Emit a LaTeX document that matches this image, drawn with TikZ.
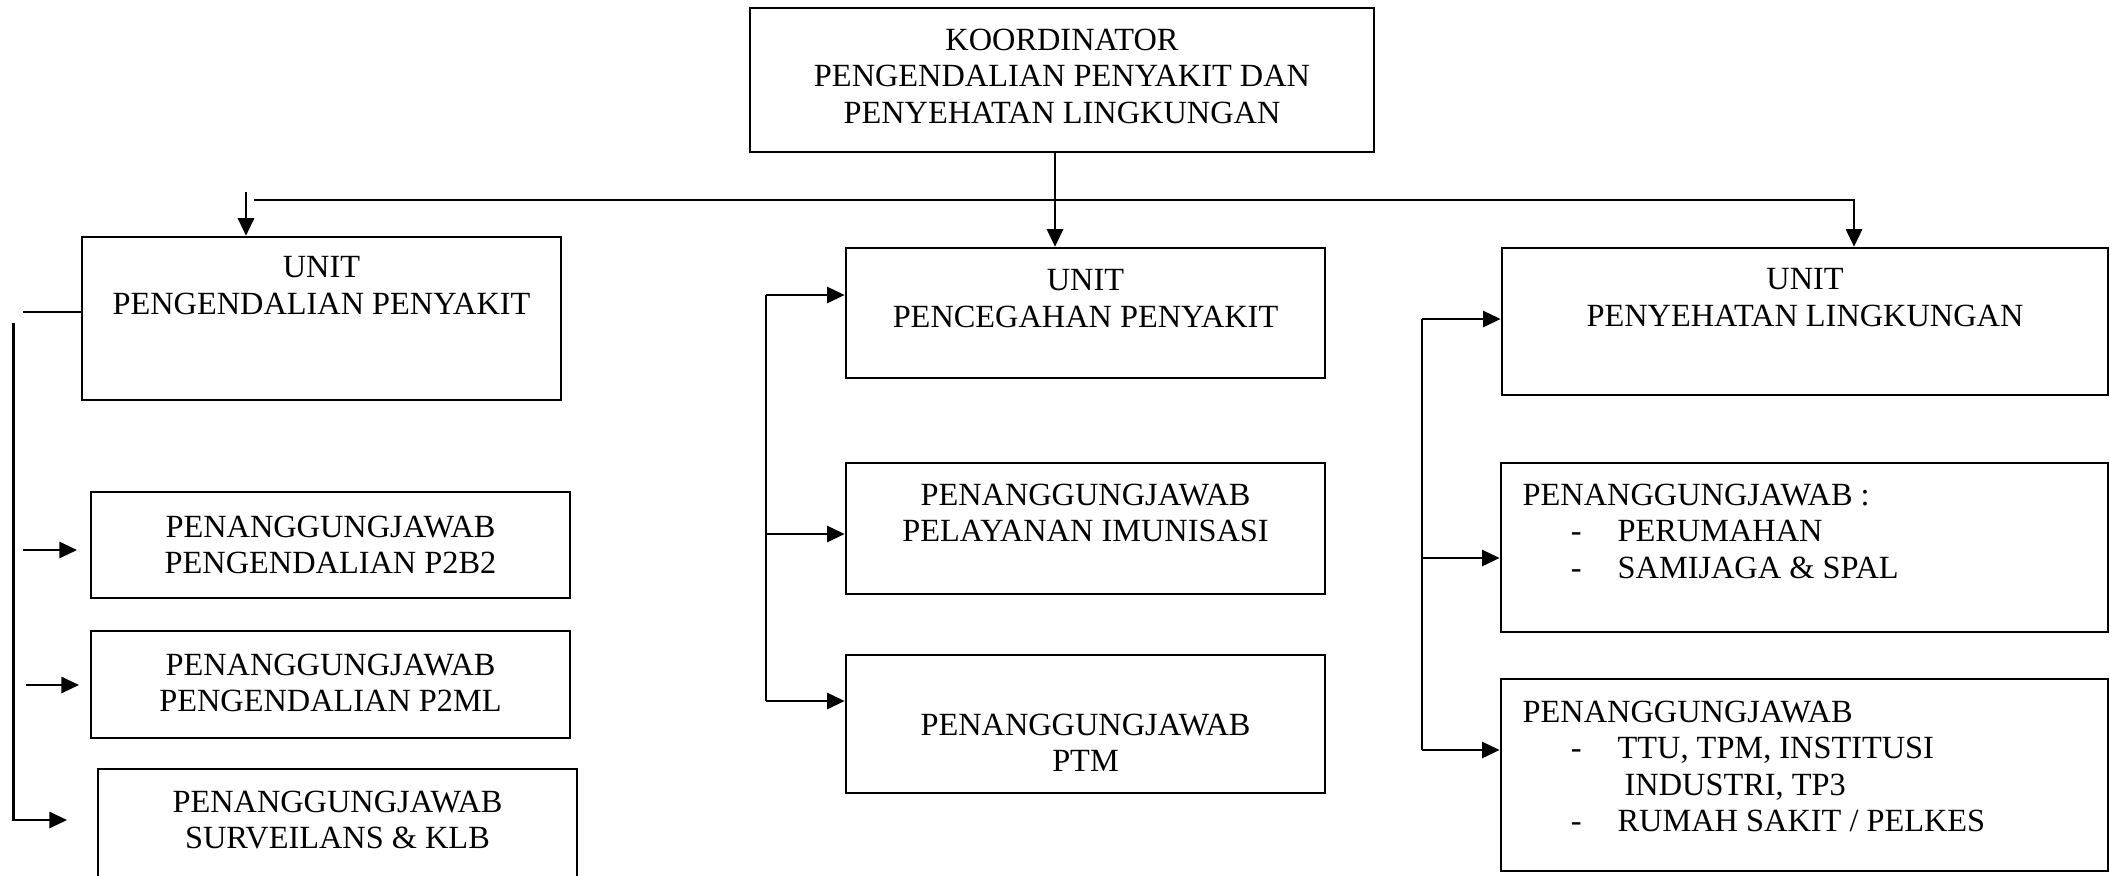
\documentclass[tikz,border=0pt]{standalone}
\usepackage{fontspec}
\setmainfont{Liberation Serif}
\usepackage{tikz}
\usetikzlibrary{arrows.meta,calc}
\newcommand{\dashitem}[1]{\hspace*{13.7pt}\makebox[13.3pt][l]{-}#1}

\begin{document}
\begin{tikzpicture}[x=0.01cm, y=-0.01cm, >={Triangle[length=5pt, width=4.6pt]},
    box/.style={draw, line width=0.7pt, inner sep=0pt},
    txt/.style={font=\fontsize{9.2}{10.4}\selectfont, inner sep=0pt, anchor=north, align=center},
    ltxt/.style={txt, anchor=north west, align=left},
    arr/.style={->, line width=0.65pt},
    link/.style={line width=0.65pt}]
\useasboundingbox (0,0) rectangle (2110,875);

% coordinator
\node[box, minimum width=6.24cm, minimum height=1.44cm] (koord) at (1062,80) {};
\node[txt] (koord-t) at (1062,28) {KOORDINATOR\\PENGENDALIAN PENYAKIT DAN\\PENYEHATAN LINGKUNGAN};

% units
\node[box, minimum width=4.79cm, minimum height=1.63cm] (unitpp) at (321.5,318.5) {};
\node[txt] (unitpp-t) at (321.5,256) {UNIT\\PENGENDALIAN PENYAKIT};
\node[box, minimum width=4.79cm, minimum height=1.30cm] (unitcp) at (1085.5,313) {};
\node[txt] (unitcp-t) at (1085.5,269) {UNIT\\PENCEGAHAN PENYAKIT};
\node[box, minimum width=6.06cm, minimum height=1.47cm] (unitpl) at (1805,321.5) {};
\node[txt] (unitpl-t) at (1805,268) {UNIT\\PENYEHATAN LINGKUNGAN};

% left column
\node[box, minimum width=4.79cm, minimum height=1.06cm] (pjbb) at (330.5,545) {};
\node[txt] (pjbb-t) at (330.5,515) {PENANGGUNGJAWAB\\PENGENDALIAN P2B2};
\node[box, minimum width=4.79cm, minimum height=1.07cm] (pjml) at (330.5,684.5) {};
\node[txt] (pjml-t) at (330.5,653) {PENANGGUNGJAWAB\\PENGENDALIAN P2ML};
\node[box, minimum width=4.79cm, minimum height=1.41cm] (pjsurv) at (337.5,839.5) {};
\node[txt] (pjsurv-t) at (337.5,790) {PENANGGUNGJAWAB\\SURVEILANS \& KLB};

% middle column
\node[box, minimum width=4.79cm, minimum height=1.31cm] (pjimun) at (1085.5,528.5) {};
\node[txt] (pjimun-t) at (1085.5,483) {PENANGGUNGJAWAB\\PELAYANAN IMUNISASI};
\node[box, minimum width=4.79cm, minimum height=1.38cm] (pjptm) at (1085.5,724) {};
\node[txt] (pjptm-t) at (1085.5,713) {PENANGGUNGJAWAB\\PTM};

% right column
\node[box, minimum width=6.07cm, minimum height=1.69cm] (pjrumah) at (1804.5,547.5) {};
\node[ltxt] (pjrumah-t) at (1522,483) {PENANGGUNGJAWAB :\\
    \dashitem{PERUMAHAN}\\
    \dashitem{SAMIJAGA \& SPAL}};
\node[box, minimum width=6.07cm, minimum height=1.92cm] (pjttu) at (1804.5,775) {};
\node[ltxt] (pjttu-t) at (1522,700) {PENANGGUNGJAWAB\\
    \dashitem{TTU, TPM, INSTITUSI}\\
    \hspace*{29pt}INDUSTRI, TP3\\
    \dashitem{RUMAH SAKIT / PELKES}};

% top links
\coordinate (cpx) at (1055,200);
\coordinate (busL) at (254,200);
\coordinate (busR) at (1854,200);
\coordinate (ppin) at (246,192);
\draw[arr] (koord.south -| cpx) -- (cpx |- unitcp.north);
\draw[arr] (busL) -- (busR) -- (busR |- unitpl.north);
\draw[arr] (ppin) -- (ppin |- unitpp.north);

% left links
\coordinate (lstub) at (23,312);
\coordinate (ltop) at (13.5,323);
\coordinate (svin) at (67,820);
\coordinate (bbin) at (23,550);
\coordinate (mlin) at (26,685);
\draw[link] (lstub) -- (lstub -| unitpp.west);
\draw[arr] (ltop) |- (svin);
\draw[arr] (bbin) -- (77,550);
\draw[arr] (mlin) -- (79,685);

% middle links
\coordinate (mtop) at (766,295);
\coordinate (mmid) at (766,534);
\coordinate (mbot) at (766,701);
\draw[link] (mtop) -- (mbot);
\foreach \p/\b in {mtop/unitcp, mmid/pjimun, mbot/pjptm}
    \draw[arr] (\p) -- (\p -| \b.west);

% right links
\coordinate (rtop) at (1422,319);
\coordinate (rmid) at (1422,558);
\coordinate (rbot) at (1422,750);
\draw[link] (rtop) -- (rbot);
\foreach \p/\b in {rtop/unitpl, rmid/pjrumah, rbot/pjttu}
    \draw[arr] (\p) -- (\p -| \b.west);
\end{tikzpicture}
\end{document}
